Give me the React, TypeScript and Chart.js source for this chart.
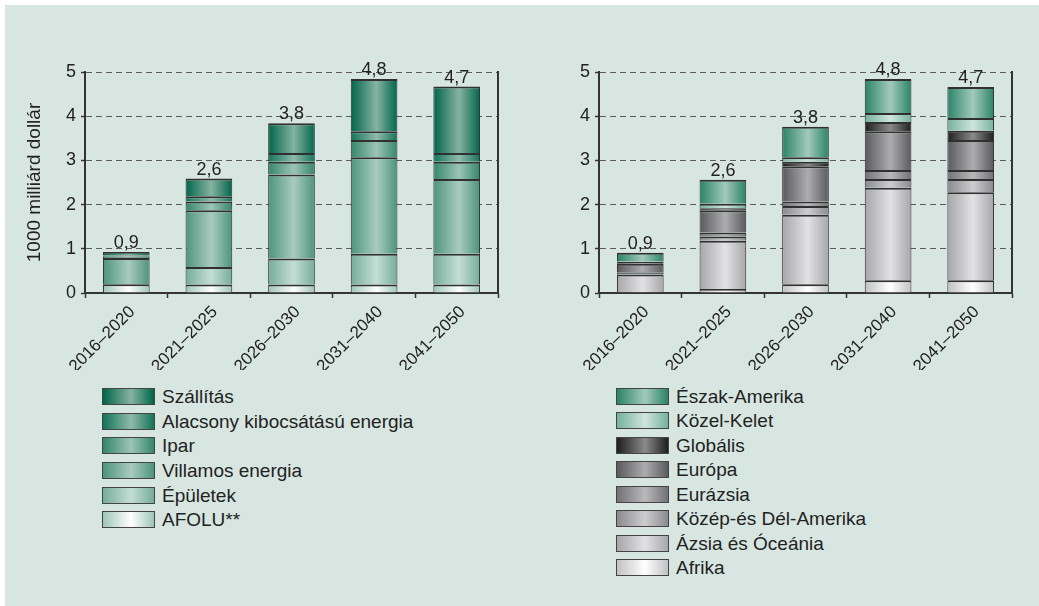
import React, { useEffect, useRef } from 'react';
import { Chart, registerables } from 'chart.js';

Chart.register(...registerables);

const FONT = '"Liberation Sans", Arial, Helvetica, sans-serif';
Chart.defaults.font.family = FONT;
Chart.defaults.color = '#222';

// Periods on the category axis
const periods = ['2016–2020', '2021–2025', '2026–2030', '2031–2040', '2041–2050'];

// Axis range, 1000 milliárd dollár
const yMin = 0;
const yMax = 5;
const yStep = 1;

// Investment need by sector, bottom of the stack first
const afolu = [0.2, 0.19, 0.19, 0.19, 0.19];
const epuletek = [0.0, 0.4, 0.59, 0.7, 0.7];
const villamosEnergia = [0.59, 1.28, 1.9, 2.18, 1.69];
const ipar = [0.03, 0.2, 0.29, 0.39, 0.39];
const alacsonyKibocsatasu = [0.03, 0.12, 0.2, 0.2, 0.2];
const szallitas = [0.08, 0.4, 0.67, 1.18, 1.5];

// Investment need by region, bottom of the stack first
const afrika = [0.02, 0.09, 0.2, 0.29, 0.29];
const azsiaOceania = [0.4, 1.09, 1.57, 2.09, 1.99];
const kozepDelAmerika = [0.03, 0.1, 0.2, 0.2, 0.3];
const eurazsia = [0.02, 0.09, 0.1, 0.2, 0.2];
const europa = [0.19, 0.5, 0.8, 0.88, 0.68];
const globalis = [0.04, 0.05, 0.1, 0.21, 0.21];
const kozelKelet = [0.01, 0.1, 0.1, 0.2, 0.29];
const eszakAmerika = [0.2, 0.54, 0.69, 0.77, 0.7];

type Series = { name: string; data: number[]; edge: string; mid: string };

const sectorSeries: Series[] = [
  { name: 'AFOLU**', data: afolu, edge: '#9dc6b8', mid: '#ffffff' },
  { name: 'Épületek', data: epuletek, edge: '#76ad9a', mid: '#c4ded5' },
  { name: 'Villamos energia', data: villamosEnergia, edge: '#4d947e', mid: '#a9cbbf' },
  { name: 'Ipar', data: ipar, edge: '#34876c', mid: '#9dc4b6' },
  { name: 'Alacsony kibocsátású energia', data: alacsonyKibocsatasu, edge: '#12745a', mid: '#8fbaa9' },
  { name: 'Szállítás', data: szallitas, edge: '#00654a', mid: '#86b3a2' },
];

const regionSeries: Series[] = [
  { name: 'Afrika', data: afrika, edge: '#c2c2c6', mid: '#ffffff' },
  { name: 'Ázsia és Óceánia', data: azsiaOceania, edge: '#a7a7ab', mid: '#e2e2e4' },
  { name: 'Közép-és Dél-Amerika', data: kozepDelAmerika, edge: '#8b8b8f', mid: '#cdcdd0' },
  { name: 'Eurázsia', data: eurazsia, edge: '#727276', mid: '#b9b9bc' },
  { name: 'Európa', data: europa, edge: '#5a5a5e', mid: '#adadb0' },
  { name: 'Globális', data: globalis, edge: '#1e1e1e', mid: '#8a8a8a' },
  { name: 'Közel-Kelet', data: kozelKelet, edge: '#76b19e', mid: '#cfe5dc' },
  { name: 'Észak-Amerika', data: eszakAmerika, edge: '#2a8367', mid: '#a2cabc' },
];

const BAR_SHARE = 0.565;
const PLOT_TOP = 32;
const X_AXIS_H = 77;
const CANVAS_H = 330;

// Horizontal "cylinder" shading across each bar
function cylinder(edge: string, mid: string) {
  return (c: any) => {
    const chart = c.chart;
    const xs = chart.scales?.x;
    if (!xs || c.dataIndex === undefined || !xs.width) return edge;
    const center = xs.getPixelForValue(c.dataIndex);
    const slot = xs.width / periods.length;
    const half = (slot * BAR_SHARE) / 2;
    const g = chart.ctx.createLinearGradient(center - half, 0, center + half, 0);
    g.addColorStop(0, edge);
    g.addColorStop(0.55, mid);
    g.addColorStop(1, edge);
    return g;
  };
}

function fmtTotal(v: number) {
  return (Math.round(v * 10) / 10).toFixed(1).replace('.', ',');
}

// Stack totals written above each column
const stackTotals = {
  id: 'stackTotals',
  afterDatasetsDraw(chart: any) {
    const { ctx } = chart;
    const xs = chart.scales.x;
    const ys = chart.scales.y;
    ctx.save();
    ctx.font = `18px ${FONT}`;
    ctx.fillStyle = '#222';
    ctx.textAlign = 'center';
    ctx.textBaseline = 'alphabetic';
    for (let i = 0; i < periods.length; i++) {
      let sum = 0;
      chart.data.datasets.forEach((ds: any) => {
        sum += ds.data[i];
      });
      ctx.fillText(fmtTotal(sum), xs.getPixelForValue(i), ys.getPixelForValue(sum) - 4);
    }
    ctx.restore();
  },
};

type PanelProps = {
  series: Series[];
  width: number;
  axisWidth: number;
  padRight: number;
  title?: string;
};

function StackedPanel({ series, width, axisWidth, padRight, title }: PanelProps) {
  const ref = useRef<HTMLCanvasElement>(null);

  useEffect(() => {
    const chart = new Chart(ref.current as HTMLCanvasElement, {
      type: 'bar',
      data: {
        labels: periods,
        datasets: series.map((s) => ({
          label: s.name,
          data: s.data,
          backgroundColor: cylinder(s.edge, s.mid) as any,
          borderColor: '#303030',
          borderWidth: { top: 2, right: 1, bottom: 0, left: 1 },
          borderSkipped: false,
          categoryPercentage: BAR_SHARE,
          barPercentage: 1,
        })),
      },
      options: {
        responsive: false,
        animation: false,
        devicePixelRatio: 1,
        layout: { padding: { top: PLOT_TOP, right: padRight, bottom: 0, left: 0 } },
        plugins: { legend: { display: false }, tooltip: { enabled: false } },
        scales: {
          x: {
            stacked: true,
            grid: {
              offset: true,
              drawOnChartArea: false,
              drawTicks: true,
              tickLength: 5,
              tickColor: '#333',
              tickWidth: 1.5,
            },
            border: { display: true, color: '#333', width: 2 },
            ticks: {
              font: { size: 17 },
              color: '#222',
              maxRotation: 45,
              minRotation: 45,
              autoSkip: false,
              padding: 4,
              labelOffset: 6,
            },
            afterFit: (s: any) => {
              s.height = X_AXIS_H;
            },
          },
          y: {
            stacked: true,
            min: yMin,
            max: yMax,
            ticks: { stepSize: yStep, font: { size: 18 }, color: '#222', padding: 5 },
            grid: {
              color: '#5c5c5c',
              lineWidth: 1,
              tickLength: 4,
              tickColor: '#333',
              tickWidth: 1.5,
            },
            border: { display: true, color: '#333', width: 2, dash: [6, 4] },
            title: {
              display: !!title,
              text: title || '',
              font: { size: 19 },
              color: '#222',
              padding: { top: 23, bottom: 0 },
            },
            afterFit: (s: any) => {
              s.width = axisWidth;
            },
          },
          y2: {
            position: 'right',
            min: yMin,
            max: yMax,
            ticks: { display: false },
            grid: { drawOnChartArea: false, drawTicks: false },
            border: { display: true, color: '#333', width: 2 },
            afterFit: (s: any) => {
              s.width = 0;
            },
          },
        },
      } as any,
      plugins: [stackTotals],
    });
    return () => chart.destroy();
  }, []);

  return <canvas ref={ref} width={width} height={CANVAS_H} style={{ display: 'block' }} />;
}

function Legend({ series, left, top, pitch }: { series: Series[]; left: number; top: number; pitch: number }) {
  const rows = [...series].reverse();
  return (
    <div style={{ position: 'absolute', left, top }}>
      {rows.map((s) => (
        <div key={s.name} style={{ display: 'flex', alignItems: 'center', height: pitch }}>
          <div
            style={{
              width: 51,
              height: 15,
              border: '1px solid #444',
              background: `linear-gradient(to right, ${s.edge} 0%, ${s.mid} 55%, ${s.edge} 100%)`,
              flex: '0 0 auto',
            }}
          />
          <span
            style={{
              marginLeft: 7,
              font: `19px ${FONT}`,
              color: '#222',
              whiteSpace: 'nowrap',
              lineHeight: '19px',
            }}
          >
            {s.name}
          </span>
        </div>
      ))}
    </div>
  );
}

export default function App() {
  return (
    <div
      style={{
        position: 'absolute',
        left: 0,
        top: 0,
        width: 1039,
        height: 606,
        background: '#ffffff',
        overflow: 'hidden',
      }}
    >
      <div
        style={{
          position: 'absolute',
          left: 5,
          top: 5,
          width: 1034,
          height: 601,
          background: '#d8e6e1',
        }}
      />
      <div style={{ position: 'absolute', left: 0, top: 40 }}>
        <StackedPanel series={sectorSeries} width={520} axisWidth={85} padRight={22} title="1000 milliárd dollár" />
      </div>
      <div style={{ position: 'absolute', left: 520, top: 40 }}>
        <StackedPanel series={regionSeries} width={519} axisWidth={79} padRight={27} />
      </div>
      <Legend series={sectorSeries} left={102} top={384} pitch={24.7} />
      <Legend series={regionSeries} left={616} top={384} pitch={24.5} />
    </div>
  );
}
